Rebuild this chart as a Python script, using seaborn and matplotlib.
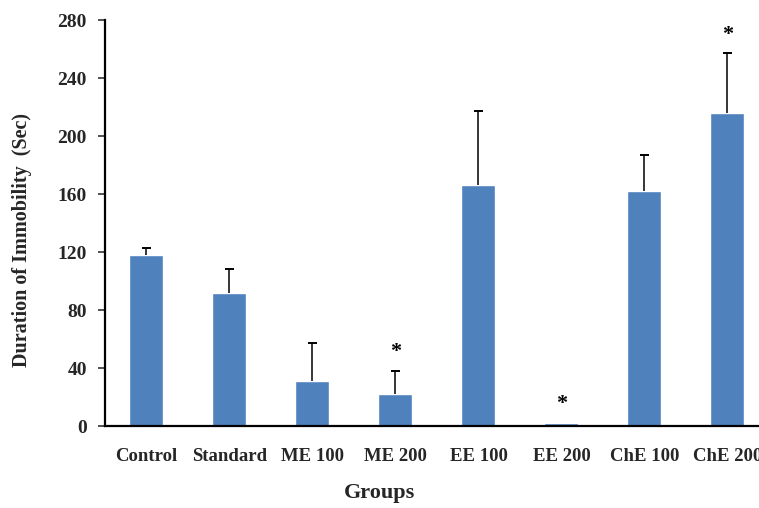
import numpy as np
import pandas as pd
import matplotlib
matplotlib.use("Agg")
import matplotlib.pyplot as plt
import seaborn as sns

groups = ["Control", "Standard", "ME 100", "ME 200", "EE 100", "EE 200", "ChE 100", "ChE 200"]
immobility = [118, 92, 31, 22, 166, 2, 162, 216]
sem = [5, 16, 26, 16, 51, 0, 25, 41]
significant = [False, False, False, True, False, True, False, True]

df = pd.DataFrame({"group": groups, "immobility": immobility, "sem": sem})

sns.set_style("white")
plt.rcParams["font.family"] = ["Liberation Serif", "DejaVu Serif"]
plt.rcParams["font.weight"] = "bold"

fig = plt.figure(figsize=(7.59, 5.08), dpi=100)
ax = fig.add_axes([0.1383, 0.1614, 0.8748, 0.7992])

sns.barplot(data=df, x="group", y="immobility", color="#4F81BD", saturation=1,
            width=0.41, errorbar=None, ax=ax)

# upper error bars only (no cap at the bar top)
x = np.arange(len(groups))
mask = df["sem"].values > 0
tops = df["immobility"].values + df["sem"].values
ax.vlines(x[mask], df["immobility"].values[mask], tops[mask], color="black", lw=1.1)
ax.hlines(tops[mask], x[mask] - 0.055, x[mask] + 0.055, color="black", lw=1.4)

# significance stars
for i, (v, e, s) in enumerate(zip(immobility, sem, significant)):
    if s:
        ax.text(i, v + e + 6, "*", ha="center", va="bottom", fontsize=16,
                fontweight="bold", color="black")

ax.set_xlim(-0.5, 7.5)
ax.set_ylim(0, 280)
ax.set_yticks(range(0, 281, 40))

ax.set_xticks(np.arange(-0.5, 8, 1), minor=True)
ax.tick_params(axis="x", which="major", length=0, pad=16, labelsize=13.5)
ax.tick_params(axis="x", which="minor", length=5, width=1.2, direction="out", color="#333333")
ax.tick_params(axis="y", which="major", length=5, width=1.2, direction="out",
               color="#333333", pad=8, labelsize=14)
ax.tick_params(left=True)

for lbl in ax.get_xticklabels() + ax.get_yticklabels():
    lbl.set_fontweight("bold")

for side in ["top", "right"]:
    ax.spines[side].set_visible(False)
for side in ["left", "bottom"]:
    ax.spines[side].set_color("black")
    ax.spines[side].set_linewidth(1.6)

ax.set_xlabel("Groups", fontsize=16, fontweight="bold")
ax.set_ylabel("Duration of Immobility  (Sec)", fontsize=14.5, fontweight="bold")
ax.xaxis.set_label_coords(0.414, -0.14)
ax.yaxis.set_label_coords(-0.11, 0.458)

fig.savefig("out.png", dpi=100)
